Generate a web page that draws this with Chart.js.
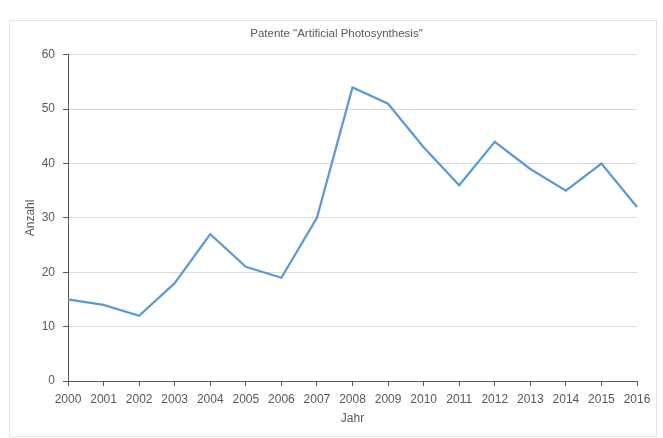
<!DOCTYPE html>
<html>
<head>
<meta charset="utf-8">
<script src="https://cdn.jsdelivr.net/npm/chart.js@4"></script>
<style>
  body { margin: 0; background: #fff; }
  #frame { position: absolute; left: 9px; top: 20px; width: 646px; height: 415px; border: 1px solid #e3e3e3; }
  #wrap { position: absolute; left: 0; top: 0; width: 663px; height: 438px; }
</style>
</head>
<body>
<div id="frame"></div>
<div id="wrap"><canvas id="patentChart" width="663" height="438"></canvas></div>
<script>
// Chart data
const years = ["2000", "2001", "2002", "2003", "2004", "2005", "2006", "2007", "2008",
               "2009", "2010", "2011", "2012", "2013", "2014", "2015", "2016"];
const patentCounts = [15, 14, 12, 18, 27, 21, 19, 30, 54, 51, 43, 36, 44, 39, 35, 40, 32];
const yTicks = [0, 10, 20, 30, 40, 50, 60];

const textColor = "#595959";
const axisColor = "#595959";
const gridColor = "#d9d9d9";
const fontFamily = "'Liberation Sans Narrow', 'Liberation Sans', Arial, sans-serif";

const ctx = document.getElementById("patentChart").getContext("2d");

new Chart(ctx, {
    type: "line",
    data: {
        labels: years,
        datasets: [
            {
                data: patentCounts,
                borderColor: "#5b9bd5",
                borderWidth: 2.25,
                pointRadius: 0,
                tension: 0,
                fill: false
            }
        ]
    },
    options: {
        responsive: false,
        animation: false,
        // left padding shifts the title box so it centres like the original
        layout: { padding: { left: 36, right: 26, top: 0, bottom: 0 } },
        plugins: {
            legend: { display: false },
            tooltip: { enabled: false },
            title: {
                display: true,
                text: 'Patente "Artificial Photosynthesis"',
                color: textColor,
                font: { family: fontFamily, size: 11.5, weight: "normal" },
                padding: { top: 27, bottom: 14 }
            }
        },
        scales: {
            x: {
                offset: false,
                border: { display: true, color: axisColor, width: 1 },
                grid: { drawOnChartArea: false, drawTicks: true, tickLength: 5, tickColor: axisColor },
                ticks: {
                    color: textColor,
                    font: { family: fontFamily, size: 12 },
                    padding: 6,
                    maxRotation: 0,
                    autoSkip: false
                },
                title: {
                    display: true,
                    text: "Jahr",
                    color: textColor,
                    font: { family: fontFamily, size: 12 },
                    padding: { top: 0, bottom: 12 }
                },
                afterFit: (scale) => { scale.height = 57; }
            },
            y: {
                min: 0,
                max: 60,
                border: { display: true, color: axisColor, width: 1 },
                grid: { color: gridColor, tickLength: 5, tickColor: axisColor },
                afterBuildTicks: (scale) => { scale.ticks = yTicks.map(v => ({ value: v })); },
                ticks: {
                    color: textColor,
                    font: { family: fontFamily, size: 12 },
                    padding: 8
                },
                title: {
                    display: true,
                    text: "Anzahl",
                    color: textColor,
                    font: { family: fontFamily, size: 12 },
                    padding: { top: -13, bottom: 0 }
                },
                afterFit: (scale) => { scale.width = 32; }
            }
        }
    }
});
</script>
</body>
</html>
